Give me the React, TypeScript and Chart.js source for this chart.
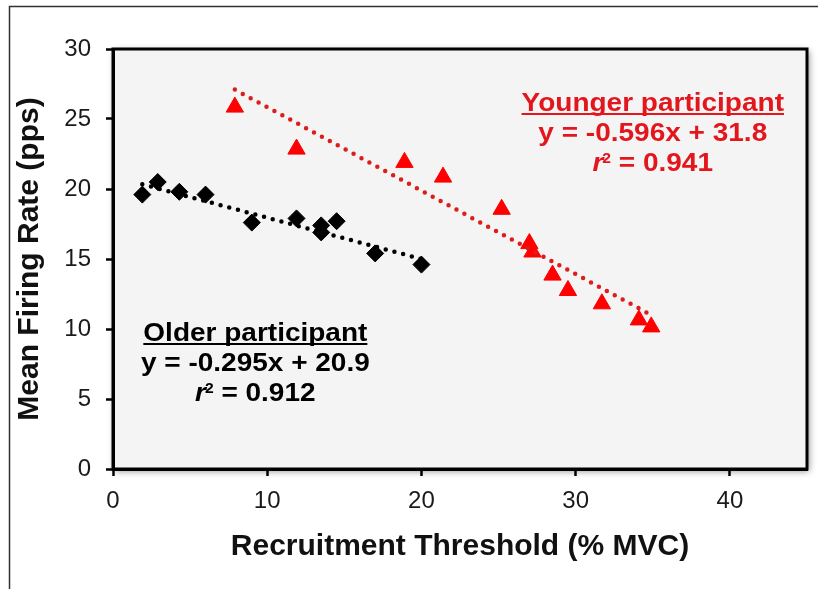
import React, { useEffect, useRef } from 'react';
import { Chart, registerables } from 'chart.js';

Chart.register(...registerables);

// ---- data ----
const olderX = [1.9, 2.9, 4.3, 6.0, 9.0, 11.9, 13.5, 13.5, 14.5, 17.0, 20.0];
const olderY = [19.6, 20.5, 19.8, 19.6, 17.6, 17.9, 16.9, 17.4, 17.7, 15.4, 14.6];

const youngerX = [7.9, 11.9, 18.9, 21.4, 25.2, 27.0, 27.2, 28.5, 29.5, 31.7, 34.1, 34.9];
const youngerY = [25.85, 22.85, 21.9, 20.85, 18.55, 16.1, 15.5, 13.85, 12.75, 11.8, 10.65, 10.15];

const olderFitX = [1.9, 20.1];
const olderFitY = [20.34, 14.97];
const youngerFitX = [7.9, 34.9];
const youngerFitY = [27.1, 11.0];

const xTicks = [0, 10, 20, 30, 40];
const yTicks = [0, 5, 10, 15, 20, 25, 30];

const xTitle = 'Recruitment Threshold (% MVC)';
const yTitle = 'Mean Firing Rate (pps)';

const youngerText = ['Younger participant', 'y = -0.596x + 31.8', ' = 0.941'];
const olderText = ['Older participant', 'y = -0.295x + 20.9', ' = 0.912'];

const FONT = '"Liberation Sans", Arial, Helvetica, sans-serif';

const toPoints = (xs: number[], ys: number[]) => xs.map((x, i) => ({ x, y: ys[i] }));

const frameAndBgPlugin = {
  id: 'frameAndBg',
  beforeDraw(chart: any) {
    const { ctx, chartArea, width, height } = chart;
    ctx.save();
    ctx.fillStyle = '#ffffff';
    ctx.fillRect(0, 0, width, height);
    // outer frame (top and left)
    ctx.strokeStyle = '#333333';
    ctx.lineWidth = 1.5;
    ctx.beginPath();
    ctx.moveTo(9.5, height);
    ctx.lineTo(9.5, 6.5);
    ctx.lineTo(width, 6.5);
    ctx.stroke();
    // plot area with shadow
    ctx.shadowColor = 'rgba(0,0,0,0.45)';
    ctx.shadowBlur = 7;
    ctx.shadowOffsetX = 2;
    ctx.shadowOffsetY = 2;
    ctx.fillStyle = '#f4f4f4';
    ctx.fillRect(chartArea.left, chartArea.top, chartArea.right - chartArea.left, chartArea.bottom - chartArea.top);
    ctx.restore();
  },
  beforeDatasetsDraw(chart: any) {
    const { ctx, chartArea } = chart;
    ctx.save();
    ctx.strokeStyle = '#000000';
    ctx.lineWidth = 3;
    ctx.strokeRect(chartArea.left, chartArea.top, chartArea.right - chartArea.left, chartArea.bottom - chartArea.top);
    ctx.restore();
  },
};

type Annot = { lines: string[]; ax: number; ay: number; color: string };

const annotations: Annot[] = [
  { lines: youngerText, ax: 35.0, ay: 25.57, color: '#e3161d' },
  { lines: olderText, ax: 9.23, ay: 9.14, color: '#000000' },
];

const annotationPlugin = {
  id: 'fitLabels',
  afterDatasetsDraw(chart: any) {
    const { ctx, scales } = chart;
    const sx = 1.12;
    const size = 25;
    const gap = 30;
    for (const a of annotations) {
      const cx = scales.x.getPixelForValue(a.ax);
      const base = scales.y.getPixelForValue(a.ay);
      ctx.save();
      ctx.fillStyle = a.color;
      ctx.strokeStyle = a.color;
      ctx.textBaseline = 'alphabetic';
      // title, underlined
      ctx.font = `bold ${size}px ${FONT}`;
      ctx.textAlign = 'center';
      const wTitle = ctx.measureText(a.lines[0]).width * sx;
      ctx.save();
      ctx.translate(cx, base);
      ctx.scale(sx, 1);
      ctx.fillText(a.lines[0], 0, 0);
      ctx.restore();
      ctx.lineWidth = 2;
      ctx.beginPath();
      ctx.moveTo(cx - wTitle / 2, base + 3);
      ctx.lineTo(cx + wTitle / 2, base + 3);
      ctx.stroke();
      // equation
      ctx.save();
      ctx.translate(cx, base + gap);
      ctx.scale(sx, 1);
      ctx.fillText(a.lines[1], 0, 0);
      ctx.restore();
      // r^2 line
      ctx.save();
      ctx.translate(cx, base + 2 * gap);
      ctx.scale(sx, 1);
      ctx.textAlign = 'left';
      ctx.font = `italic bold ${size}px ${FONT}`;
      const wr = ctx.measureText('r').width;
      ctx.font = `bold 14px ${FONT}`;
      const w2 = ctx.measureText('2').width;
      ctx.font = `bold ${size}px ${FONT}`;
      const wRest = ctx.measureText(a.lines[2]).width;
      const total = wr + w2 - 1 + wRest;
      const x0 = -total / 2;
      ctx.font = `italic bold ${size}px ${FONT}`;
      ctx.fillText('r', x0, 0);
      ctx.font = `bold 14px ${FONT}`;
      ctx.fillText('2', x0 + wr - 1, -8);
      ctx.font = `bold ${size}px ${FONT}`;
      ctx.fillText(a.lines[2], x0 + wr - 1 + w2, 0);
      ctx.restore();
      ctx.restore();
    }
  },
};

export default function App() {
  const canvasRef = useRef<HTMLCanvasElement | null>(null);

  useEffect(() => {
    if (!canvasRef.current) return;
    const chart = new Chart(canvasRef.current, {
      type: 'scatter',
      data: {
        datasets: [
          {
            label: 'Older fit',
            data: toPoints(olderFitX, olderFitY),
            showLine: true,
            pointRadius: 0,
            borderColor: '#000000',
            borderWidth: 4.5,
            borderDash: [0, 9],
            borderCapStyle: 'round',
          } as any,
          {
            label: 'Younger fit',
            data: toPoints(youngerFitX, youngerFitY),
            showLine: true,
            pointRadius: 0,
            borderColor: '#dd1c1c',
            borderWidth: 4.5,
            borderDash: [0, 9],
            borderCapStyle: 'round',
          } as any,
          {
            label: 'Older participant',
            data: toPoints(olderX, olderY),
            pointStyle: 'rectRot',
            pointRadius: 8.5,
            pointBackgroundColor: '#000000',
            pointBorderColor: '#000000',
            pointBorderWidth: 1,
            showLine: false,
          },
          {
            label: 'Younger participant',
            data: toPoints(youngerX, youngerY),
            pointStyle: 'triangle',
            pointRadius: 10,
            pointBackgroundColor: '#ff0000',
            pointBorderColor: '#ff0000',
            pointBorderWidth: 1,
            showLine: false,
          },
        ],
      },
      options: {
        animation: false,
        responsive: true,
        maintainAspectRatio: false,
        layout: { padding: { top: 49, right: 8, left: 0, bottom: 0 } },
        plugins: {
          legend: { display: false },
          tooltip: { enabled: false },
          title: { display: false },
        },
        scales: {
          x: {
            type: 'linear',
            min: 0,
            max: 45,
            afterFit: (s: any) => { s.height = 120; },
            afterBuildTicks: (s: any) => { s.ticks = xTicks.map((v) => ({ value: v })); },
            ticks: { font: { family: FONT, size: 24 }, color: '#1a1a1a', padding: 11 },
            grid: { drawOnChartArea: false, drawTicks: true, tickLength: 7, tickWidth: 2.5, tickColor: '#000000', color: '#000000' },
            border: { display: true, color: '#000000', width: 3 },
            title: {
              display: true,
              text: xTitle,
              font: { family: FONT, size: 30, weight: 'bold' },
              color: '#111111',
              padding: { top: 0, bottom: 24 },
            },
          },
          y: {
            type: 'linear',
            min: 0,
            max: 30,
            afterFit: (s: any) => { s.width = 113; },
            afterBuildTicks: (s: any) => { s.ticks = yTicks.map((v) => ({ value: v })); },
            ticks: { font: { family: FONT, size: 24 }, color: '#1a1a1a', padding: 15 },
            grid: { drawOnChartArea: false, drawTicks: true, tickLength: 7, tickWidth: 2.5, tickColor: '#000000', color: '#000000' },
            border: { display: true, color: '#000000', width: 3 },
            title: {
              display: true,
              text: yTitle,
              font: { family: FONT, size: 30, weight: 'bold' },
              color: '#111111',
              padding: { top: 12, bottom: 0 },
            },
          },
        },
      },
      plugins: [frameAndBgPlugin, annotationPlugin],
    });
    return () => chart.destroy();
  }, []);

  return (
    <div style={{ position: 'absolute', left: 0, top: 0, width: 818, height: 589 }}>
      <canvas ref={canvasRef} />
    </div>
  );
}
